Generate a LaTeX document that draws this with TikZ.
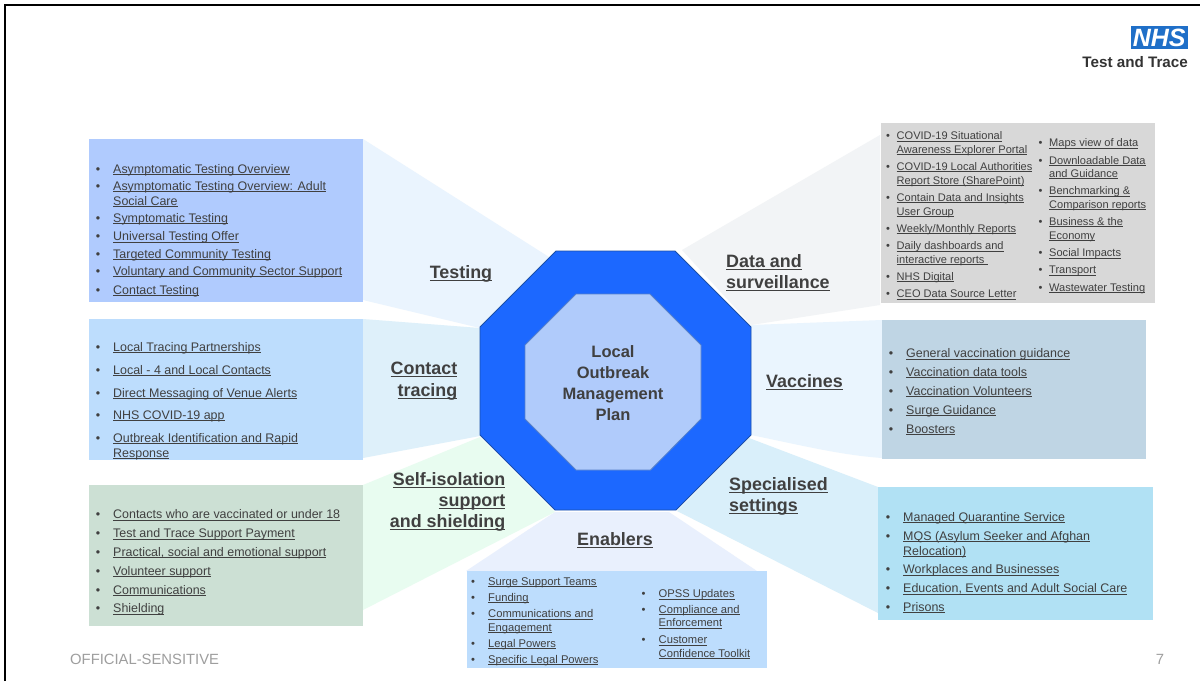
\documentclass[tikz,border=0pt]{standalone}
\usepackage{fontspec}
\setmainfont{Liberation Sans}
\definecolor{ink}{HTML}{404040}
\definecolor{octout}{HTML}{1C68FF}
\definecolor{octin}{HTML}{B0CBFB}
\definecolor{octline}{HTML}{1A4FA8}
\definecolor{nhsblue}{HTML}{1F6FC8}
\newcounter{tn}
\newcommand{\ulbox}[1]{\leavevmode\setbox0=\hbox{#1}\rlap{\rule[-2.1pt]{\wd0}{0.65pt}}\box0 }
\tikzset{
  itemtext/.style={anchor=base west,inner sep=0pt,text=ink},
  bullettext/.style={anchor=base,inner sep=0pt,text=ink},
  headtext/.style={inner sep=0pt,text=ink,font=\fontsize{17.9}{20}\selectfont\bfseries},
  fan/.style={draw=none},
  panel/.style={draw=none},
}
\newcommand{\li}[3]{\stepcounter{tn}\node[bullettext] (b\arabic{tn}) at (#1-15,#2+4) {\textbullet};\node[itemtext] (t\arabic{tn}) at (#1,#2+4) {\ulbox{#3}};}
\newcommand{\lid}[3]{\stepcounter{tn}\node[bullettext] (b\arabic{tn}) at (#1-8.5,#2+4) {\textbullet};\node[itemtext] (t\arabic{tn}) at (#1,#2+4) {\ulbox{#3}};}
\newcommand{\lc}[3]{\stepcounter{tn}\node[itemtext] (t\arabic{tn}) at (#1,#2+4) {\ulbox{#3}};}
\newcommand{\hd}[5]{\node[headtext,anchor=base #1] (#2) at (#3,#4+5.5) {\ulbox{#5}};}
\begin{document}
\begin{tikzpicture}[x=1pt,y=-1pt]
\useasboundingbox (0,0) rectangle (1200,681);
\fill[white] (0,0) rectangle (1200,681);
\draw[black,line width=2pt] (5,681) -- (5,5) -- (1200,5);
% fans
\fill[fan,fill={rgb,255:red,234;green,244;blue,254}] (363,139) -- (549,257) -- (480,328) -- (363,300) -- cycle;
\fill[fan,fill={rgb,255:red,222;green,240;blue,250}] (363,319) -- (480,328) -- (480,436) -- (363,458) -- cycle;
\fill[fan,fill={rgb,255:red,232;green,252;blue,240}] (363,485) -- (480,437) -- (555,512) -- (363,610) -- cycle;
\fill[fan,fill={rgb,255:red,233;green,240;blue,253}] (466,571) -- (555,512) -- (669,512) -- (757,571) -- cycle;
\fill[fan,fill={rgb,255:red,217;green,239;blue,250}] (878,613) -- (677,511) -- (749,438) -- (878,487) -- cycle;
\fill[fan,fill={rgb,255:red,234;green,245;blue,254}] (882,320) -- (751,325) -- (751,435) .. controls (800,445) and (840,455) .. (882,458) -- cycle;
\fill[fan,fill={rgb,255:red,242;green,244;blue,246}] (880,135) -- (682,250) -- (751,325) -- (880,305) -- cycle;
% panels
\fill[panel,fill={rgb,255:red,176;green,203;blue,254}] (89,139) rectangle (363,302);
\fill[panel,fill={rgb,255:red,189;green,221;blue,253}] (89,319) rectangle (363,460);
\fill[panel,fill={rgb,255:red,204;green,224;blue,212}] (89,485) rectangle (363,626);
\fill[panel,fill={rgb,255:red,189;green,221;blue,253}] (466.5,571) rectangle (767,668);
\fill[panel,fill={rgb,255:red,177;green,225;blue,244}] (878,487) rectangle (1153,620);
\fill[panel,fill={rgb,255:red,191;green,213;blue,228}] (882,320) rectangle (1146,459);
\fill[panel,fill={rgb,255:red,216;green,216;blue,216}] (880.5,123) rectangle (1155,303);
% octagons
\draw[octline,line width=0.8pt,fill=octout] (556,251) -- (675,251) -- (751,327) -- (751,435) -- (676,510) -- (555,510) -- (480,435) -- (480,327) -- cycle;
\draw[octline!60!octin,line width=0.8pt,fill=octin] (576,294) -- (650,294) -- (701,345) -- (701,419) -- (650.5,470) -- (576,470) -- (525,419) -- (525,345) -- cycle;
\node[inner sep=0pt,align=center,text=ink,font=\fontsize{16.5}{21}\selectfont\bfseries] (centre) at (613,383.5) {Local\\Outbreak\\Management\\Plan};
% headings
\hd{}{hTest}{461}{273}{Testing}
\hd{east}{hCt1}{457.5}{369}{Contact}
\hd{east}{hCt2}{457.5}{391}{tracing}
\hd{east}{hSi1}{505.5}{480}{Self-isolation}
\hd{east}{hSi2}{505.5}{501}{support}
\hd{east}{hSi3}{505.5}{522}{and shielding}
\hd{}{hEn}{615}{540}{Enablers}
\hd{west}{hDa1}{726}{262}{Data and}
\hd{west}{hDa2}{726}{283}{surveillance}
\hd{west}{hVa}{766}{382}{Vaccines}
\hd{west}{hSp1}{729}{485}{Specialised}
\hd{west}{hSp2}{729}{506}{settings}
% testing
\fontsize{12.45}{14}\selectfont
\li{113}{169}{Asymptomatic Testing Overview}
\li{113}{186}{Asymptomatic Testing Overview: Adult}
\lc{113}{201}{Social Care}
\li{113}{218}{Symptomatic Testing}
\li{113}{236.5}{Universal Testing Offer}
\li{113}{254}{Targeted Community Testing}
\li{113}{271}{Voluntary and Community Sector Support}
\li{113}{290}{Contact Testing}
% contact
\li{113}{347}{Local Tracing Partnerships}
\li{113}{370}{Local - 4 and Local Contacts}
\li{113}{393}{Direct Messaging of Venue Alerts}
\li{113}{415}{NHS COVID-19 app}
\li{113}{438}{Outbreak Identification and Rapid}
\lc{113}{453}{Response}
% self
\li{113}{514.5}{Contacts who are vaccinated or under 18}
\li{113}{533.5}{Test and Trace Support Payment}
\li{113}{552}{Practical, social and emotional support}
\li{113}{571}{Volunteer support}
\li{113}{590}{Communications}
\li{113}{608.5}{Shielding}
% vaccines
\li{906}{353.5}{General vaccination guidance}
\li{906}{372}{Vaccination data tools}
\li{906}{391}{Vaccination Volunteers}
\li{906}{410}{Surge Guidance}
\li{906}{429}{Boosters}
% specialised
\li{903}{517}{Managed Quarantine Service}
\li{903}{536}{MQS (Asylum Seeker and Afghan}
\lc{903}{551}{Relocation)}
\li{903}{569.5}{Workplaces and Businesses}
\li{903}{588.5}{Education, Events and Adult Social Care}
\li{903}{607}{Prisons}
% enablers
\fontsize{11.2}{13}\selectfont
\li{488}{581}{Surge Support Teams}
\li{488}{597}{Funding}
\li{488}{613.5}{Communications and}
\lc{488}{627}{Engagement}
\li{488}{643}{Legal Powers}
\li{488}{659}{Specific Legal Powers}
\li{658.5}{593.5}{OPSS Updates}
\li{658.5}{609}{Compliance and}
\lc{658.5}{622.5}{Enforcement}
\li{658.5}{639.5}{Customer}
\lc{658.5}{653}{Confidence Toolkit}
% data
\fontsize{11.05}{13}\selectfont
\lid{896.5}{135.5}{COVID-19 Situational}
\lc{896.5}{149}{Awareness Explorer Portal}
\lid{896.5}{166}{COVID-19 Local Authorities}
\lc{896.5}{180}{Report Store (SharePoint)}
\lid{896.5}{197}{Contain Data and Insights}
\lc{896.5}{211}{User Group}
\lid{896.5}{228}{Weekly/Monthly Reports}
\lid{896.5}{245.5}{Daily dashboards and}
\lc{896.5}{259}{interactive reports }
\lid{896.5}{276}{NHS Digital}
\lid{896.5}{293.5}{CEO Data Source Letter}
\lid{1049}{142.5}{Maps view of data}
\lid{1049}{160}{Downloadable Data}
\lc{1049}{173}{and Guidance}
\lid{1049}{190.5}{Benchmarking \&}
\lc{1049}{204}{Comparison reports}
\lid{1049}{221}{Business \& the}
\lc{1049}{235}{Economy}
\lid{1049}{252.5}{Social Impacts}
\lid{1049}{269.5}{Transport}
\lid{1049}{287}{Wastewater Testing}
% footer
\node[anchor=base west,inner sep=0pt,text=black!38,font=\fontsize{14.8}{16}\selectfont] (foot) at (70,664) {OFFICIAL-SENSITIVE};
\node[anchor=base,inner sep=0pt,text=black!38,font=\fontsize{14.8}{16}\selectfont] (page) at (1160,664) {7};
% logo
\node[draw=none,fill=nhsblue,minimum width=56.5pt,minimum height=23pt,inner sep=0pt,text=white,font=\fontsize{25}{25}\selectfont\bfseries\itshape] (logo) at (1159.25,37.5) {NHS};
\node[anchor=base east,inner sep=0pt,text=black!80,font=\fontsize{15.2}{16}\selectfont\bfseries] (tt) at (1188,67) {Test and Trace};
\end{tikzpicture}
\end{document}
